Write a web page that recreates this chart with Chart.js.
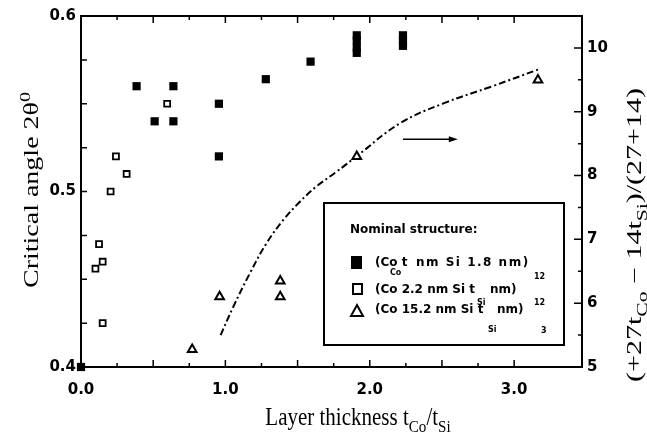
<!DOCTYPE html>
<html>
<head>
<meta charset="utf-8">
<script src="https://cdn.jsdelivr.net/npm/chart.js@4.4.0/dist/chart.umd.min.js"></script>
<style>
  body { margin: 0; background: #fff; }
  canvas { display: block; }
</style>
</head>
<body>
<canvas id="angleChart" width="647" height="442"></canvas>
<script>
// Co/Si multilayers: critical angle vs. layer thickness ratio

// (Co t_Co nm / Si 1.8 nm)12 - filled squares
const filledX = [0.0, 0.385, 0.51, 0.64, 0.64, 0.955, 0.955, 1.28, 1.59, 1.91, 1.91, 1.91, 1.91, 2.23, 2.23, 2.23];
const filledY = [0.400, 0.560, 0.540, 0.560, 0.540, 0.550, 0.520, 0.564, 0.574, 0.589, 0.586, 0.582, 0.579, 0.589, 0.586, 0.583];

// (Co 2.2 nm / Si t_Si nm)12 - open squares
const openX = [0.10, 0.125, 0.15, 0.15, 0.205, 0.242, 0.316, 0.597];
const openY = [0.456, 0.470, 0.460, 0.425, 0.500, 0.520, 0.510, 0.550];

// (Co 15.2 nm / Si t_Si nm)3 - triangles
const triX = [0.77, 0.96, 1.38, 1.38, 1.91, 3.165];
const triY = [0.410, 0.440, 0.449, 0.440, 0.520, 0.5635];

// (27 t_Co - 14 t_Si)/(27+14) curve, right axis
const curveX = [0.967, 1.054, 1.17, 1.285, 1.40, 1.516, 1.631, 1.77, 1.908, 2.21, 2.51, 2.85, 3.165];
const curveY = [5.50, 5.94, 6.47, 6.94, 7.30, 7.59, 7.83, 8.06, 8.30, 8.82, 9.13, 9.40, 9.66];

const xLabels = [0, 1, 2, 3];
const yLabels = [0.4, 0.5, 0.6];
const y2Labels = [5, 6, 7, 8, 9, 10];

const toPoints = (xs, ys) => xs.map((x, i) => ({ x, y: ys[i] }));
const near = (v, list) => list.some((l) => Math.abs(v - l) < 1e-6);
const isMultiple = (v, step) => Math.abs(v / step - Math.round(v / step)) < 1e-6;

const tickFont = { family: "DejaVu Sans", weight: "bold", size: 15 };

// text with sub/superscript pieces, centred on cx
function richWidth(ctx, parts, size) {
  let w = 0;
  parts.forEach((p) => {
    ctx.font = `${p.sub || p.sup ? size * 0.72 : size}px "Liberation Serif"`;
    w += ctx.measureText(p.t).width;
  });
  return w;
}

function drawRich(ctx, parts, cx, cy, size) {
  const w = richWidth(ctx, parts, size);
  let x = cx - w / 2;
  ctx.textBaseline = "alphabetic";
  ctx.textAlign = "left";
  parts.forEach((p) => {
    const small = p.sub || p.sup;
    ctx.font = `${small ? size * 0.72 : size}px "Liberation Serif"`;
    let y = cy;
    if (p.sub) y += size * 0.28;
    if (p.sup) y -= size * 0.42;
    ctx.fillText(p.t, x, y);
    x += ctx.measureText(p.t).width;
  });
}

// rotated/stretched title: translate, rotate, scale, then draw
function drawTitle(ctx, parts, x, y, angle, sx, sy, size) {
  ctx.save();
  ctx.translate(x, y);
  ctx.rotate(angle);
  ctx.scale(sx, sy);
  drawRich(ctx, parts, 0, 0, size);
  ctx.restore();
}

const frameTicks = {
  id: "frameTicks",
  beforeDatasetsDraw(chart) {
    const { ctx, chartArea: a, scales } = chart;
    ctx.save();
    ctx.strokeStyle = "#000";
    ctx.lineWidth = 2;
    ctx.strokeRect(a.left, a.top, a.right - a.left, a.bottom - a.top);
    ctx.lineWidth = 1.5;
    ctx.beginPath();
    scales.x.ticks.forEach((t) => {
      if (!isMultiple(t.value, 0.25)) return;
      const px = scales.x.getPixelForValue(t.value);
      const len = isMultiple(t.value, 0.5) ? 7 : 4;
      ctx.moveTo(px, a.bottom);
      ctx.lineTo(px, a.bottom - len);
      ctx.moveTo(px, a.top);
      ctx.lineTo(px, a.top + len);
    });
    scales.y.ticks.forEach((t) => {
      const py = scales.y.getPixelForValue(t.value);
      ctx.moveTo(a.left, py);
      ctx.lineTo(a.left + 6, py);
    });
    scales.y2.ticks.forEach((t) => {
      if (!isMultiple(t.value, 0.5)) return;
      const py = scales.y2.getPixelForValue(t.value);
      const len = isMultiple(t.value, 1) ? 8 : 4;
      ctx.moveTo(a.right, py);
      ctx.lineTo(a.right - len, py);
    });
    ctx.stroke();
    ctx.restore();
  },
  afterDraw(chart) {
    const { ctx, scales } = chart;
    ctx.save();
    ctx.fillStyle = "#000";
    ctx.strokeStyle = "#000";

    // axis titles
    drawTitle(ctx, [
      { t: "Layer thickness t" }, { t: "Co", sub: true },
      { t: "/t" }, { t: "Si", sub: true }
    ], 358, 425, 0, 1, 1.15, 21);

    drawTitle(ctx, [{ t: "Critical angle 2\u03b8" }, { t: "0", sup: true }],
      38, 190, -Math.PI / 2, 1.4, 1, 20);

    drawTitle(ctx, [
      { t: "(+27t" }, { t: "Co", sub: true }, { t: " \u2212 14t" },
      { t: "Si", sub: true }, { t: ")/(27+14)" }
    ], 641, 235, -Math.PI / 2, 1.5, 1, 20);

    // arrow pointing at the right axis
    const ay = scales.y2.getPixelForValue(8.57);
    const ax0 = scales.x.getPixelForValue(2.23);
    const ax1 = scales.x.getPixelForValue(2.61);
    ctx.lineWidth = 1.5;
    ctx.beginPath();
    ctx.moveTo(ax0, ay);
    ctx.lineTo(ax1 - 6, ay);
    ctx.stroke();
    ctx.beginPath();
    ctx.moveTo(ax1, ay);
    ctx.lineTo(ax1 - 9, ay - 3);
    ctx.lineTo(ax1 - 9, ay + 3);
    ctx.closePath();
    ctx.fill();

    // legend box
    const bx = 324, by = 203, bw = 240, bh = 142;
    ctx.fillStyle = "#fff";
    ctx.fillRect(bx, by, bw, bh);
    ctx.fillStyle = "#000";
    ctx.lineWidth = 2;
    ctx.strokeRect(bx, by, bw, bh);

    const big = 'bold 12px "DejaVu Sans"';
    const small = 'bold 8px "DejaVu Sans"';
    ctx.textAlign = "left";
    ctx.textBaseline = "middle";
    ctx.font = big;
    ctx.fillText("Nominal structure:", bx + 26, by + 27);

    // row 1
    ctx.fillRect(bx + 27, by + 53, 11, 13);
    ctx.fillText("(Co t", bx + 51, by + 60);
    ctx.letterSpacing = "1.5px";
    ctx.fillText("nm Si 1.8 nm)", bx + 92, by + 60);
    ctx.letterSpacing = "0px";
    ctx.font = small;
    ctx.fillText("Co", bx + 66, by + 70);
    ctx.fillText("12", bx + 210, by + 74);

    // row 2
    ctx.lineWidth = 2;
    ctx.strokeRect(bx + 29, by + 81, 9, 10);
    ctx.font = big;
    ctx.fillText("(Co 2.2 nm Si t", bx + 51, by + 87);
    ctx.fillText("nm)", bx + 166, by + 87);
    ctx.font = small;
    ctx.fillText("Si", bx + 153, by + 100);
    ctx.fillText("12", bx + 210, by + 100);

    // row 3
    ctx.lineWidth = 2;
    ctx.beginPath();
    ctx.moveTo(bx + 33, by + 102);
    ctx.lineTo(bx + 39, by + 113);
    ctx.lineTo(bx + 27, by + 113);
    ctx.closePath();
    ctx.stroke();
    ctx.font = big;
    ctx.fillText("(Co 15.2 nm Si t", bx + 51, by + 107);
    ctx.fillText("nm)", bx + 173, by + 107);
    ctx.font = small;
    ctx.fillText("Si", bx + 164, by + 127);
    ctx.fillText("3", bx + 217, by + 128);

    ctx.restore();
  }
};

const ctx = document.getElementById("angleChart").getContext("2d");
new Chart(ctx, {
  type: "scatter",
  data: {
    datasets: [
      {
        label: "(Co tCo nm Si 1.8 nm)12",
        data: toPoints(filledX, filledY),
        pointStyle: "rect",
        pointRadius: 5.8,
        backgroundColor: "#000",
        borderColor: "#000",
        borderWidth: 0,
        clip: false,
        yAxisID: "y"
      },
      {
        label: "(Co 2.2 nm Si tSi nm)12",
        data: toPoints(openX, openY),
        pointStyle: "rect",
        pointRadius: 4.2,
        backgroundColor: "#fff",
        borderColor: "#000",
        borderWidth: 1.8,
        yAxisID: "y"
      },
      {
        label: "(Co 15.2 nm Si tSi nm)3",
        data: toPoints(triX, triY),
        pointStyle: "triangle",
        pointRadius: 5,
        backgroundColor: "#fff",
        borderColor: "#000",
        borderWidth: 2,
        yAxisID: "y"
      },
      {
        type: "line",
        label: "(27tCo - 14tSi)/(27+14)",
        data: toPoints(curveX, curveY),
        borderColor: "#000",
        borderWidth: 2,
        borderDash: [7, 3, 2, 3],
        pointRadius: 0,
        tension: 0.4,
        fill: false,
        yAxisID: "y2"
      }
    ]
  },
  options: {
    responsive: false,
    animation: false,
    events: [],
    layout: { padding: { top: 16 } },
    plugins: {
      legend: { display: false },
      tooltip: { enabled: false }
    },
    scales: {
      x: {
        type: "linear",
        position: "bottom",
        min: 0,
        max: 3.47,
        afterFit: (s) => { s.height = 75; },
        grid: { display: false, drawTicks: false },
        border: { display: false },
        ticks: {
          stepSize: 0.25,
          autoSkip: false,
          maxRotation: 0,
          padding: 14,
          color: "#000",
          font: tickFont,
          callback: (v) => (near(v, xLabels) ? v.toFixed(1) : "")
        }
      },
      y: {
        type: "linear",
        position: "left",
        min: 0.4,
        max: 0.6,
        afterFit: (s) => { s.width = 81; },
        grid: { display: false, drawTicks: false },
        border: { display: false },
        ticks: {
          stepSize: 0.025,
          autoSkip: false,
          padding: 5,
          color: "#000",
          font: tickFont,
          callback: (v) => (near(v, yLabels) ? v.toFixed(1) : "")
        }
      },
      y2: {
        type: "linear",
        position: "right",
        min: 5,
        max: 10.5,
        afterFit: (s) => { s.width = 65; },
        grid: { display: false, drawTicks: false },
        border: { display: false },
        ticks: {
          stepSize: 0.5,
          autoSkip: false,
          padding: 5,
          color: "#000",
          font: tickFont,
          callback: (v) => (near(v, y2Labels) ? String(v) : "")
        }
      }
    }
  },
  plugins: [frameTicks]
});
</script>
</body>
</html>
